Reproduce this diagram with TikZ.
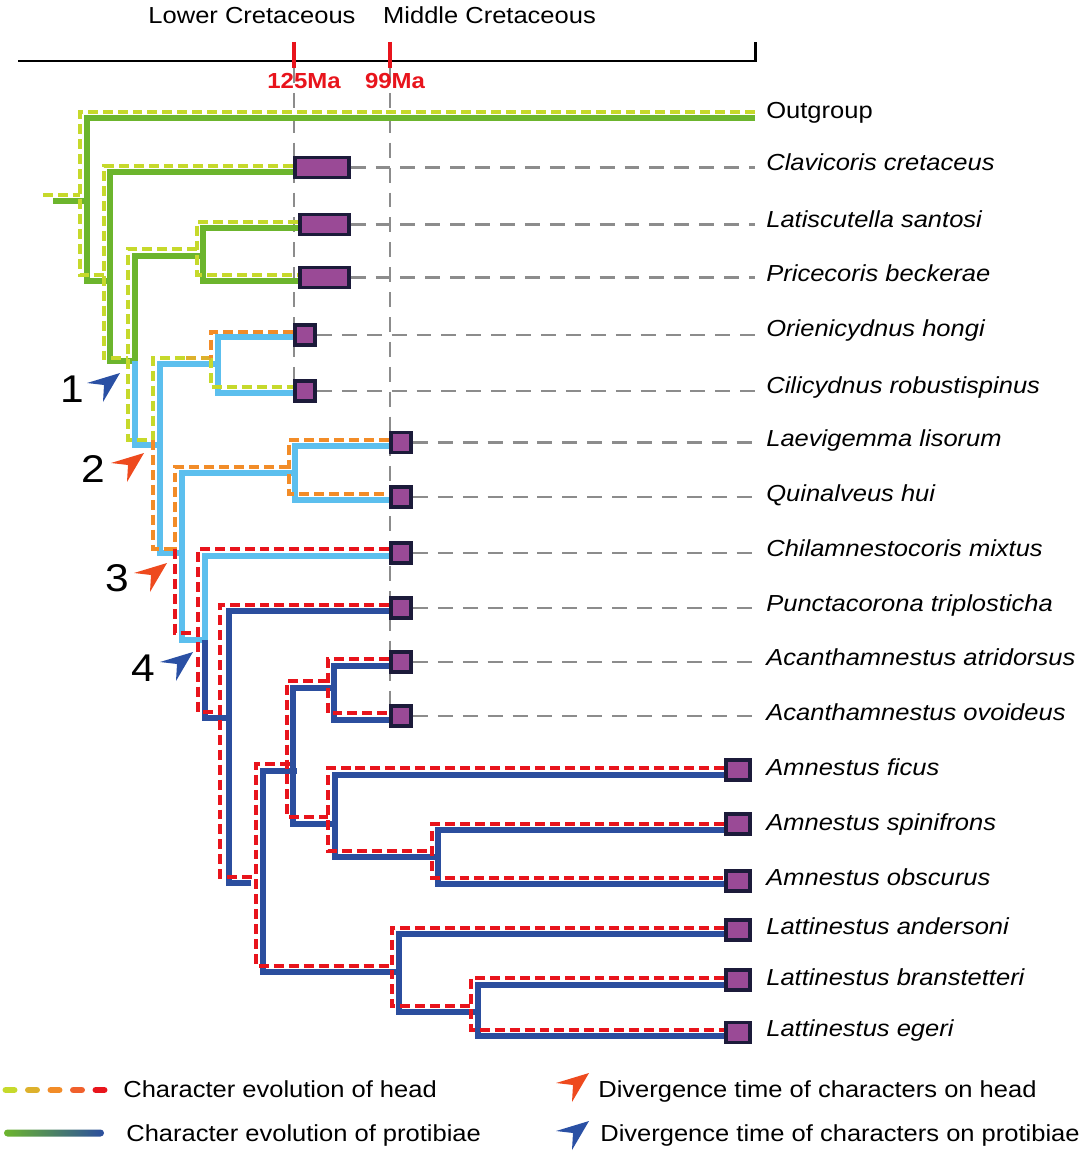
\documentclass[tikz,border=0pt]{standalone}
\usepackage{fontspec}
\setmainfont{Liberation Sans}[FakeStretch=1.1]
\newdimen\pxu
\pxu=0.5669pt

\definecolor{protgreen}{HTML}{6CB52D}
\definecolor{protsky}{HTML}{5CBFEE}
\definecolor{protnavy}{HTML}{2B4E9E}
\definecolor{headlime}{HTML}{C6D92B}
\definecolor{headgold}{HTML}{DDB12C}
\definecolor{headorange}{HTML}{F28C28}
\definecolor{headscarlet}{HTML}{F0602C}
\definecolor{headred}{HTML}{E8141C}
\definecolor{boxfill}{HTML}{9A4A96}
\definecolor{boxedge}{HTML}{1C1B3A}
\definecolor{markred}{HTML}{EE4A1E}
\definecolor{markblue}{HTML}{2A50A4}

\begin{document}
\begin{tikzpicture} [
                x=0.02cm,
                y=-0.02cm,
                font=\fontsize{13.2}{16}\selectfont,
                prot/.style = {line width=6\pxu, line cap=square},
                head/.style = {line width=3.5\pxu, dash pattern=on 10\pxu off 5\pxu},
                guide/.style = {draw=black!45, line width=2.2\pxu, dash pattern=on 15\pxu off 10\pxu},
                taxbox/.style = {draw=boxedge, fill=boxfill, line width=3.5\pxu, inner sep=0pt, minimum height=20\pxu},
                taxon/.style = {anchor=base west, inner sep=0pt, font=\fontsize{13.2}{16}\selectfont\itshape},
                tick label/.style = {text=headred, anchor=base, inner sep=0pt, font=\fontsize{12.4}{14}\selectfont\bfseries},
                mark label/.style = {inner sep=0pt, font=\fontsize{22}{26}\selectfont}
            ]
            \useasboundingbox (0,0) rectangle (1084,1152);
            % time scale on top
            \node[anchor=base] (lowercret) at (252,24) {Lower Cretaceous};
            \node[anchor=base] (midcret) at (489.5,24) {Middle Cretaceous};
            \draw[line width=3\pxu] (18,61) -- (755,61) -- (755,42);
            \coordinate (guideend) at (755,0);
            \draw[guide] (294,68) -- (294,380);
            \draw[guide] (390,68) -- (390,705);
            \foreach \tx in {294,390}
                \draw[headred, line width=3.5\pxu] (\tx,42) -- (\tx,68);
            \node[tick label] (t125) at (304,89) {125Ma};
            \node[tick label] (t99) at (395,89) {99Ma};
            % protibiae, solid branches: from (\xa,\ya) across to the node line \xn, down to \yb, then on to \xb
            \draw[prot, protgreen] (53,201) -- (87,201);
            \foreach \xa/\ya/\xn/\yb/\xb in {755/118/87/281/110, 293/172/110/361/135,
                                             298/228/203/281/298, 203/256/135/361/135}
                \draw[prot, protgreen] (\xa,\ya) -| (\xn,\yb) -- (\xb,\yb);
            \foreach \xa/\ya/\xn/\yb/\xb in {135/361/135/445/160, 218/364/160/553/182,
                                             293/337/218/393/293, 295/473/182/640/205,
                                             389/446/295/500/389, 389/556/205/640/205}
                \draw[prot, protsky] (\xa,\ya) -| (\xn,\yb) -- (\xb,\yb);
            \foreach \xa/\ya/\xn/\yb/\xb in {205/640/205/718/229, 389/611/229/883/251,
                                             297/771/263/972/399, 335/688/293/824/335,
                                             389/666/334/720/389, 724/775/335/857/438,
                                             724/830/438/884/724, 724/934/399/1012/478,
                                             724/985/478/1036/724}
                \draw[prot, protnavy] (\xa,\ya) -| (\xn,\yb) -- (\xb,\yb);
            % head, dashed branches
            \draw[head, headlime] (43,195) -- (80,195);
            \foreach \xa/\ya/\xn/\yb/\xb in {755/112/80/275/104, 293/166/104/358/128,
                                             197/249/128/440/153, 298/222/197/275/298,
                                             185/358/153/440/153, 211/358/211/387/293}
                \draw[head, headlime] (\xa,\ya) -| (\xn,\yb) -- (\xb,\yb);
            \draw[head, headgold] (211,358) -- (185,358);
            \foreach \xa/\ya/\xn/\yb/\xb in {293/332/211/358/211, 153/440/153/549/175,
                                             289/467/175/549/175, 389/440/289/494/389}
                \draw[head, headorange] (\xa,\ya) -| (\xn,\yb) -- (\xb,\yb);
            \foreach \xa/\ya/\xn/\yb/\xb in {175/549/175/633/198, 389/549/198/712/220,
                                             389/605/220/877/252, 290/764/256/966/392,
                                             328/681/287/817/328, 389/659/328/713/389,
                                             724/768/328/851/432, 724/824/432/878/724,
                                             724/928/392/1006/471, 724/978/471/1030/724}
                \draw[head, headred] (\xa,\ya) -| (\xn,\yb) -- (\xb,\yb);
            % fossil boxes at the tips
            \foreach \name/\bx/\by/\w in {clav/322/167.5/54, lati/324.5/224.5/49, pric/324.5/277.5/49,
                                          orie/305/335/20.5, cili/305/391/20.5, laev/401/442.5/20.5,
                                          quin/401/497/20.5, chil/401/553/20.5, punc/401/608/20.5,
                                          atri/401/662/20.5, ovoi/401/716/20.5, fic/738/770/24.5,
                                          spin/738/824/24.5, obsc/738/881/24.5, ande/738/930/24.5,
                                          bran/738/980/24.5, eger/738/1032.5/24.5}
                \node[taxbox, minimum width=\w\pxu] (\name) at (\bx,\by) {};
            \foreach \name in {clav, lati, pric, orie, cili, laev, quin, chil, punc, atri, ovoi}
                \draw[guide] (\name.east) -- (\name.east -| guideend);
            % names of the taxa
            \node[taxon, font=\fontsize{13.2}{16}\selectfont] (outg-lab) at (766,119) {Outgroup};
            \foreach \name/\base/\taxname in {clav/171/Clavicoris cretaceus, lati/228/Latiscutella santosi,
                                              pric/281/Pricecoris beckerae, orie/336/Orienicydnus hongi,
                                              cili/393/Cilicydnus robustispinus, laev/446/Laevigemma lisorum,
                                              quin/501/Quinalveus hui, chil/556/Chilamnestocoris mixtus,
                                              punc/611/Punctacorona triplosticha, atri/665/Acanthamnestus atridorsus,
                                              ovoi/720/Acanthamnestus ovoideus, fic/775/Amnestus ficus,
                                              spin/830/Amnestus spinifrons, obsc/885/Amnestus obscurus,
                                              ande/934/Lattinestus andersoni, bran/985/Lattinestus branstetteri,
                                              eger/1036/Lattinestus egeri}
                \node[taxon] (\name-lab) at (766,\base) {\taxname};
            % divergence arrows and their numbers
            \foreach \tx/\ty/\col in {120/373/markblue, 144/453/markred, 167/563/markred,
                                      193/652/markblue, 589/1073/markred, 589/1121/markblue}
                \fill[\col] (\tx,\ty) -- ++(-33,10) -- ++(17,2) -- ++(-1,17) -- cycle;
            \foreach \num/\nx/\ny in {1/72/389, 2/93/469, 3/117/578, 4/143/668}
                \node[mark label] (mark\num) at (\nx,\ny) {\num};
            % legend
            \foreach \i/\col in {0/headlime, 1/headgold, 2/headorange, 3/headscarlet, 4/headred}
                \draw[\col, line width=7\pxu, line cap=round] ({6+22.5*\i},1090) -- ({14+22.5*\i},1090);
            \shade[left color=protgreen, middle color=protsky, right color=protnavy, rounded corners=2pt]
                (4,1129.5) rectangle (104,1136.5);
            \node[anchor=base west, inner sep=0pt] (headkey) at (123,1097) {Character evolution of head};
            \node[anchor=base west, inner sep=0pt] (protkey) at (126,1141) {Character evolution of protibiae};
            \node[anchor=base west, inner sep=0pt] (headmarkkey) at (598,1097) {Divergence time of characters on head};
            \node[anchor=base west, inner sep=0pt] (protmarkkey) at (600,1141) {Divergence time of characters on protibiae};
        \end{tikzpicture}
\end{document}
